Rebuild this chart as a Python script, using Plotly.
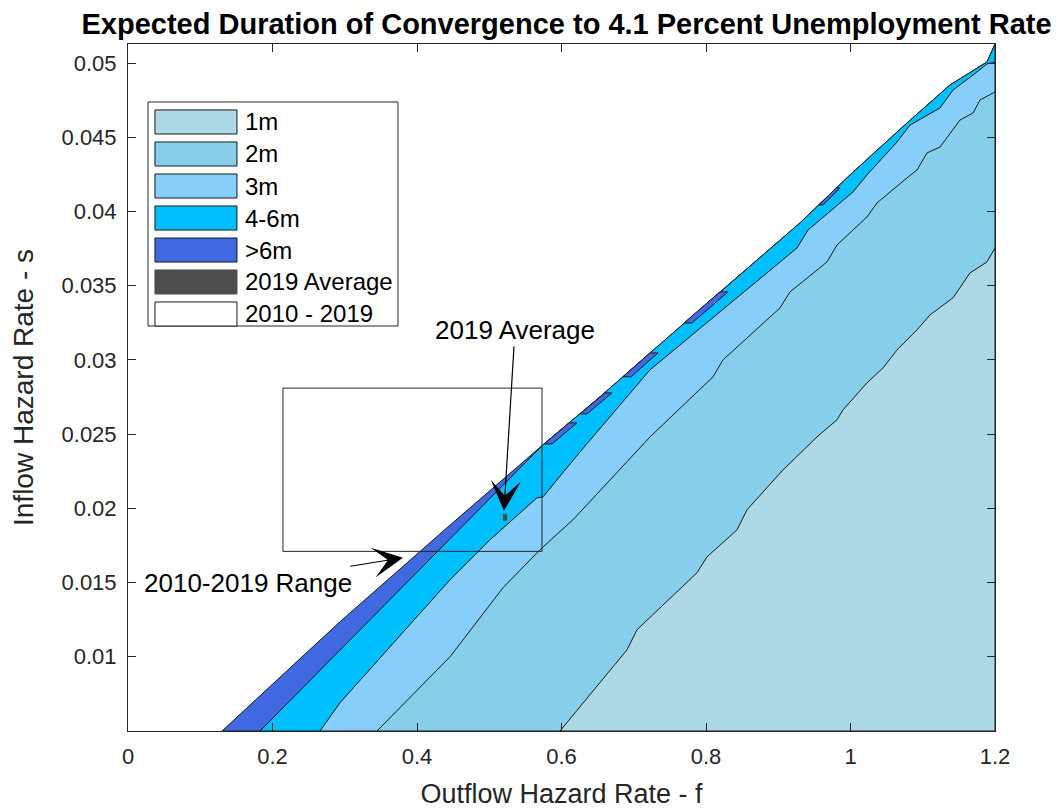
import plotly.graph_objects as go

# Contour boundaries (outflow rate f, inflow rate s), bottom edge -> right edge
edge_f = [0.1301, 0.2934, 0.4415, 0.5744, 0.6533, 0.7225, 0.8194, 0.9301, 0.9993, 1.0782, 1.1377, 1.1889, 1.2]
edge_s = [0.0050, 0.01236, 0.01869, 0.02428, 0.02751, 0.03047, 0.03458, 0.03923, 0.04246, 0.04596, 0.04852, 0.05007, 0.05128]

m6_f = [0.1827, 0.2962, 0.4443, 0.5744, 0.6533, 0.7225, 0.8194, 0.9301, 0.9993, 1.0782, 1.1377, 1.1889, 1.2]
m6_s = [0.0050, 0.01061, 0.01788, 0.02428, 0.02751, 0.03047, 0.03458, 0.03923, 0.04246, 0.04596, 0.04852, 0.05007, 0.05128]

m3_f = [0.2657, 0.2934, 0.4457, 0.5010, 0.5661, 0.5744, 0.6256, 0.7225, 0.9260, 0.9412, 1.0035, 1.0228,
        1.0644, 1.0824, 1.1239, 1.1419, 1.1696, 1.1889, 1.2]
m3_s = [0.0050, 0.00690, 0.01519, 0.01788, 0.02071, 0.02077, 0.02380, 0.02933, 0.03754, 0.03875, 0.04131, 0.04246,
        0.04468, 0.04582, 0.04697, 0.04818, 0.04919, 0.04993, 0.05007]

m2_f = [0.3446, 0.4457, 0.5190, 0.5702, 0.6159, 0.7225, 0.8097, 0.8235, 0.9024, 0.9163, 0.9675, 0.9813,
        1.0228, 1.0367, 1.0782, 1.0920, 1.1059, 1.1239, 1.1516, 1.1696, 1.1792, 1.2]
m2_s = [0.0050, 0.0100, 0.01465, 0.01721, 0.01923, 0.02481, 0.02886, 0.03000, 0.03350, 0.03458, 0.03660, 0.03774,
        0.03963, 0.04057, 0.04226, 0.04279, 0.04394, 0.04434, 0.04616, 0.04663, 0.04751, 0.04805]

m1_f = [0.5979, 0.6907, 0.7045, 0.7875, 0.8014, 0.8429, 0.8567, 0.9066, 0.9536, 0.9813, 0.9896, 1.0228,
        1.0450, 1.0644, 1.0920, 1.1100, 1.1419, 1.1654, 1.1889, 1.2]
m1_s = [0.0050, 0.01047, 0.01182, 0.01566, 0.01673, 0.01855, 0.01990, 0.02259, 0.02481, 0.02596, 0.02663, 0.02845,
        0.02946, 0.03067, 0.03202, 0.03303, 0.03418, 0.03586, 0.03660, 0.03754]

# isolated >6m patches along the upper edge: [f corners], [s corners]
patch_f = [[0.5758, 0.5869, 0.6215, 0.6104],
           [0.6256, 0.6353, 0.6699, 0.6602],
           [0.6851, 0.6962, 0.7336, 0.7225],
           [0.7695, 0.7806, 0.8304, 0.8194],
           [0.9564, 0.9619, 0.9855, 0.9799]]
patch_s = [[0.02434, 0.02434, 0.02576, 0.02576],
           [0.02636, 0.02636, 0.02778, 0.02778],
           [0.02886, 0.02886, 0.03047, 0.03047],
           [0.03249, 0.03249, 0.03458, 0.03458],
           [0.04044, 0.04044, 0.04158, 0.04158]]

# 2010-2019 range and 2019 average (f, s)
range_f = [0.2145, 0.573]
range_s = [0.0171, 0.0281]
avg_f = [0.5195, 0.5241]
avg_s = [0.0192, 0.0196]

F_MAX = 1.2
S_MIN = 0.005
S_MAX = 0.05128

labels = ["1m", "2m", "3m", "4-6m", ">6m", "2019 Average", "2010 - 2019"]
colors = ["#ADD8E6", "#87CEEB", "#87CEFA", "#00BFFF", "#4169E1", "#4D4D4D", "#FFFFFF"]

FONT = "Liberation Sans, Arial, Helvetica, sans-serif"
INK = "#262626"
EDGE = "#1A1A1A"

fig = go.Figure()


def region(fx, sy, color):
    xs = list(fx) + [F_MAX, fx[0]]
    ys = list(sy) + [S_MIN, sy[0]]
    fig.add_trace(go.Scatter(x=xs, y=ys, mode="lines", fill="toself", fillcolor=color,
                             line=dict(color=EDGE, width=1), hoverinfo="skip", showlegend=False))


region(edge_f, edge_s, colors[4])
region(m6_f, m6_s, colors[3])

px, py = [], []
for pf, ps in zip(patch_f, patch_s):
    px += pf + [pf[0], None]
    py += ps + [ps[0], None]
fig.add_trace(go.Scatter(x=px, y=py, mode="lines", fill="toself", fillcolor=colors[4],
                         line=dict(color=EDGE, width=1), hoverinfo="skip", showlegend=False))

region(m3_f, m3_s, colors[2])
region(m2_f, m2_s, colors[1])
region(m1_f, m1_s, colors[0])

# 2010-2019 range box
fig.add_trace(go.Scatter(
    x=[range_f[0], range_f[1], range_f[1], range_f[0], range_f[0]],
    y=[range_s[0], range_s[0], range_s[1], range_s[1], range_s[0]],
    mode="lines", line=dict(color=INK, width=1), hoverinfo="skip", showlegend=False))

# 2019 average
fig.add_trace(go.Scatter(
    x=[avg_f[0], avg_f[1], avg_f[1], avg_f[0], avg_f[0]],
    y=[avg_s[0], avg_s[0], avg_s[1], avg_s[1], avg_s[0]],
    mode="lines", fill="toself", fillcolor=colors[5], line=dict(color=colors[5], width=1),
    hoverinfo="skip", showlegend=False))

annotations = [
    dict(x=0.5204, y=0.01983, xref="x", yref="y", text="2019 Average", showarrow=True,
         ax=11, ay=-181, arrowhead=3, arrowsize=4.2, arrowwidth=1.2, arrowcolor="#000000",
         font=dict(family=FONT, size=26, color="#000000")),
    dict(x=0.3806, y=0.01667, xref="x", yref="y", text="2010-2019 Range", showarrow=True,
         ax=-155, ay=25, arrowhead=3, arrowsize=4.2, arrowwidth=1.2, arrowcolor="#000000",
         font=dict(family=FONT, size=26, color="#000000")),
]

# legend drawn in plot-fraction coordinates
shapes = []
LX0, LX1, LY0, LY1 = 0.0231, 0.3114, 0.5895, 0.9156
shapes.append(dict(type="rect", xref="paper", yref="paper", x0=LX0, x1=LX1, y0=LY0, y1=LY1,
                   line=dict(color=INK, width=1), fillcolor="#FFFFFF", layer="above"))
row_y = [0.8865, 0.8399, 0.7933, 0.7467, 0.7001, 0.6536, 0.6070]
for lab, col, yc in zip(labels, colors, row_y):
    edge = "#4D4D4D" if lab == "2019 Average" else EDGE
    shapes.append(dict(type="rect", xref="paper", yref="paper", x0=0.0311, x1=0.1257,
                       y0=yc - 0.0175, y1=yc + 0.0175, line=dict(color=edge, width=1),
                       fillcolor=col, layer="above"))
    annotations.append(dict(x=0.1326, y=yc, xref="paper", yref="paper", text=lab, showarrow=False,
                            xanchor="left", yanchor="middle",
                            font=dict(family=FONT, size=24, color="#000000")))

fig.update_layout(
    width=1057, height=810,
    margin=dict(l=128, r=62, t=44, b=79),
    paper_bgcolor="#FFFFFF", plot_bgcolor="#FFFFFF",
    title=dict(text="<b>Expected Duration of Convergence to 4.1 Percent Unemployment Rate</b>",
               x=0.536, xref="container", xanchor="center", y=0.971, yref="container", yanchor="middle",
               font=dict(family=FONT, size=29, color="#000000")),
    font=dict(family=FONT, color=INK),
    shapes=shapes,
    annotations=annotations,
    showlegend=False,
)
fig.update_xaxes(range=[0, F_MAX], tickvals=[0, 0.2, 0.4, 0.6, 0.8, 1, 1.2],
                 ticktext=["0", "0.2", "0.4", "0.6", "0.8", "1", "1.2"],
                 ticks="inside", ticklen=8, tickcolor=INK, showline=True, linecolor=INK, linewidth=1,
                 mirror="ticks", showgrid=False, zeroline=False, ticklabelstandoff=6, automargin=False,
                 tickfont=dict(family=FONT, size=22, color=INK),
                 title=dict(text="Outflow Hazard Rate - f", font=dict(family=FONT, size=27, color=INK), standoff=15))
fig.update_yaxes(range=[S_MIN, S_MAX],
                 tickvals=[0.01, 0.015, 0.02, 0.025, 0.03, 0.035, 0.04, 0.045, 0.05],
                 ticktext=["0.01", "0.015", "0.02", "0.025", "0.03", "0.035", "0.04", "0.045", "0.05"],
                 ticks="inside", ticklen=8, tickcolor=INK, showline=True, linecolor=INK, linewidth=1,
                 mirror="ticks", showgrid=False, zeroline=False, ticklabelstandoff=6, automargin=False,
                 tickfont=dict(family=FONT, size=22, color=INK),
                 title=dict(text="Inflow Hazard Rate - s", font=dict(family=FONT, size=28, color=INK), standoff=19))

fig.write_html("out.html")
